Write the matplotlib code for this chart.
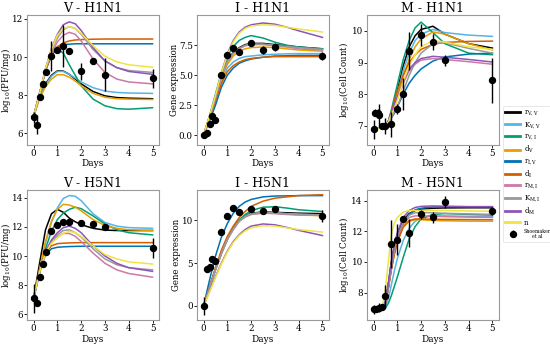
import matplotlib
matplotlib.use('Agg')
import matplotlib.pyplot as plt

plt.rcParams['font.family'] = ['DejaVu Serif']
plt.rcParams['mathtext.fontset'] = 'dejavuserif'

# time grids for the model curves
t_fit = [0, 0.25, 0.5, 0.75, 1, 1.25, 1.5, 1.75, 2, 2.5, 3, 3.5, 4, 5]
t_fit_m = [0, 0.25, 0.375, 0.5, 0.625, 0.75, 0.875, 1, 1.25, 1.5, 1.75, 2, 2.5, 3, 4, 5]

# legend labels / colours (one curve per parameter)
param_labels = [r'r$_{\rm V,V}$', r'K$_{\rm V,V}$', r'r$_{\rm V,I}$', r'd$_{\rm V}$', r'r$_{\rm I,V}$',
                r'd$_{\rm I}$', r'r$_{\rm M,I}$', r'K$_{\rm M,I}$', r'd$_{\rm M}$', 'n']
param_colors = ['#000000', '#56B4E9', '#009E73', '#E69F00', '#0072B2',
                '#D55E00', '#CC79A7', '#999999', '#8E55B8', '#F0E442']

# curves, rows in legend order
v_h1n1 = [
    [6.9, 7.9, 8.6, 9.05, 9.28, 9.27, 9.1, 8.85, 8.6, 8.2, 7.97, 7.88, 7.85, 7.82],
    [6.9, 7.9, 8.55, 9.0, 9.25, 9.25, 9.1, 8.9, 8.7, 8.4, 8.22, 8.15, 8.12, 8.1],
    [6.9, 8.1, 9.3, 10.1, 10.45, 10.2, 9.6, 9.05, 8.5, 7.8, 7.45, 7.3, 7.27, 7.35],
    [6.9, 7.85, 8.45, 8.85, 9.08, 9.08, 8.95, 8.75, 8.5, 8.1, 7.9, 7.82, 7.8, 7.78],
    [6.9, 8.1, 9.3, 10.1, 10.5, 10.65, 10.68, 10.7, 10.7, 10.7, 10.7, 10.7, 10.7, 10.7],
    [6.9, 8.1, 9.3, 10.1, 10.55, 10.75, 10.85, 10.9, 10.92, 10.94, 10.95, 10.95, 10.95, 10.95],
    [6.9, 8.0, 9.3, 10.2, 10.8, 11.15, 11.3, 11.2, 10.85, 9.9, 9.2, 8.85, 8.7, 8.6],
    [6.9, 8.05, 9.35, 10.35, 11.0, 11.45, 11.6, 11.5, 11.2, 10.4, 9.8, 9.45, 9.3, 9.2],
    [6.9, 8.05, 9.4, 10.45, 11.2, 11.7, 11.85, 11.75, 11.4, 10.5, 9.8, 9.45, 9.25, 9.1],
    [6.9, 8.05, 9.4, 10.4, 11.15, 11.5, 11.6, 11.5, 11.25, 10.6, 10.05, 9.75, 9.6, 9.47],
]
i_h1n1 = [
    [0, 1.5, 3.1, 4.9, 6.2, 6.9, 7.3, 7.55, 7.65, 7.65, 7.55, 7.45, 7.35, 7.2],
    [0, 1.4, 2.8, 4.4, 5.6, 6.1, 6.4, 6.55, 6.6, 6.7, 6.75, 6.78, 6.8, 6.8],
    [0, 1.6, 3.4, 5.2, 6.6, 7.4, 7.9, 8.15, 8.3, 8.1, 7.75, 7.5, 7.35, 7.2],
    [0, 1.5, 3.0, 4.7, 5.9, 6.6, 7.0, 7.2, 7.3, 7.35, 7.3, 7.2, 7.1, 7.0],
    [0, 1.2, 2.5, 4.0, 5.0, 5.6, 6.0, 6.2, 6.35, 6.5, 6.6, 6.62, 6.65, 6.65],
    [0, 1.4, 2.9, 4.3, 5.3, 5.8, 6.1, 6.3, 6.4, 6.5, 6.55, 6.55, 6.55, 6.55],
    [0, 1.5, 3.1, 4.85, 6.1, 6.8, 7.2, 7.45, 7.55, 7.55, 7.45, 7.35, 7.2, 7.1],
    [0, 1.5, 3.1, 4.9, 6.15, 6.85, 7.25, 7.5, 7.6, 7.6, 7.5, 7.4, 7.3, 7.15],
    [0, 1.6, 3.3, 5.2, 6.8, 7.9, 8.6, 9.0, 9.2, 9.35, 9.25, 9.0, 8.7, 8.15],
    [0, 1.6, 3.3, 5.2, 6.7, 7.8, 8.5, 8.9, 9.1, 9.2, 9.15, 9.0, 8.85, 8.6],
]
m_h1n1 = [
    [6.92, 6.93, 6.95, 7.0, 7.15, 7.4, 7.75, 8.1, 8.9, 9.5, 9.85, 10.05, 10.15, 9.9, 9.6, 9.46],
    [6.92, 6.93, 6.95, 7.0, 7.12, 7.35, 7.65, 8.0, 8.75, 9.3, 9.7, 9.9, 10.05, 9.95, 9.87, 9.83],
    [6.92, 6.93, 6.95, 7.0, 7.15, 7.5, 7.9, 8.3, 9.1, 9.7, 10.1, 10.28, 9.95, 9.6, 9.3, 9.25],
    [6.92, 6.93, 6.95, 7.0, 7.12, 7.35, 7.6, 7.9, 8.6, 9.1, 9.5, 9.75, 9.97, 9.9, 9.6, 9.4],
    [6.92, 6.93, 6.95, 7.0, 7.1, 7.25, 7.4, 7.6, 8.0, 8.35, 8.6, 8.8, 9.05, 9.18, 9.27, 9.3],
    [6.92, 6.93, 6.95, 7.0, 7.15, 7.45, 7.8, 8.1, 8.6, 9.0, 9.25, 9.42, 9.58, 9.64, 9.67, 9.68],
    [6.92, 6.93, 6.95, 7.0, 7.15, 7.4, 7.65, 7.85, 8.35, 8.75, 8.95, 9.08, 9.13, 9.1, 9.03, 8.95],
    [6.92, 6.93, 6.95, 7.0, 7.1, 7.25, 7.45, 7.6, 8.1, 8.6, 9.0, 9.3, 9.6, 9.63, 9.45, 9.3],
    [6.92, 6.93, 6.95, 7.0, 7.15, 7.45, 7.7, 7.9, 8.4, 8.8, 9.0, 9.13, 9.2, 9.17, 9.1, 9.02],
    [6.92, 6.93, 6.95, 7.0, 7.12, 7.35, 7.55, 7.8, 8.4, 8.9, 9.25, 9.5, 9.7, 9.65, 9.5, 9.42],
]
v_h5n1 = [
    [7.1, 9.5, 11.8, 12.9, 13.2, 13.0, 12.6, 12.35, 12.15, 11.9, 11.78, 11.75, 11.75, 11.75],
    [7.1, 9.0, 10.9, 12.3, 13.3, 13.95, 14.15, 14.1, 13.8, 12.9, 12.3, 12.05, 11.95, 11.9],
    [7.1, 8.8, 10.5, 11.7, 12.5, 12.95, 13.2, 13.35, 13.25, 12.75, 12.2, 11.8, 11.6, 11.45],
    [7.1, 9.1, 11.0, 12.4, 13.2, 13.55, 13.5, 13.35, 13.1, 12.5, 12.1, 11.9, 11.8, 11.75],
    [7.1, 8.9, 10.1, 10.5, 10.6, 10.63, 10.65, 10.66, 10.67, 10.67, 10.67, 10.67, 10.67, 10.67],
    [7.1, 9.0, 10.2, 10.7, 10.85, 10.88, 10.9, 10.91, 10.92, 10.92, 10.92, 10.92, 10.92, 10.92],
    [7.1, 8.9, 10.2, 10.9, 11.3, 11.55, 11.55, 11.35, 11.0, 10.2, 9.5, 9.05, 8.8, 8.55],
    [7.1, 8.9, 10.25, 11.0, 11.45, 11.75, 11.8, 11.6, 11.3, 10.5, 9.8, 9.4, 9.2, 9.05],
    [7.1, 8.9, 10.3, 11.1, 11.6, 11.95, 12.05, 11.9, 11.6, 10.7, 10.0, 9.5, 9.2, 8.95],
    [7.1, 8.9, 10.2, 10.9, 11.25, 11.55, 11.7, 11.6, 11.35, 10.7, 10.1, 9.8, 9.6, 9.45],
]
i_h5n1 = [
    [0, 2.2, 4.3, 6.2, 7.9, 9.1, 10.0, 10.5, 10.8, 10.95, 10.9, 10.85, 10.8, 10.75],
    [0, 2.2, 4.3, 6.2, 7.85, 9.05, 9.95, 10.45, 10.75, 10.9, 10.85, 10.75, 10.7, 10.6],
    [0, 2.1, 4.2, 6.1, 7.7, 9.0, 10.0, 10.65, 11.1, 11.5, 11.55, 11.4, 11.2, 11.0],
    [0, 2.1, 4.2, 6.1, 7.8, 8.95, 9.9, 10.4, 10.7, 10.85, 10.8, 10.7, 10.6, 10.5],
    [0, 3.0, 5.8, 8.0, 9.6, 10.8, 11.6, 12.1, 12.4, 12.7, 12.8, 12.82, 12.85, 12.85],
    [0, 2.2, 4.4, 6.5, 8.1, 9.3, 10.3, 11.0, 11.6, 12.2, 12.55, 12.7, 12.85, 12.95],
    [0, 2.1, 4.2, 6.1, 7.75, 8.9, 9.85, 10.35, 10.65, 10.8, 10.75, 10.65, 10.6, 10.55],
    [0, 2.1, 4.2, 6.1, 7.8, 8.95, 9.9, 10.4, 10.7, 10.85, 10.82, 10.72, 10.65, 10.6],
    [0, 1.7, 3.4, 5.0, 6.4, 7.5, 8.3, 8.9, 9.3, 9.55, 9.45, 9.15, 8.8, 8.2],
    [0, 1.65, 3.3, 4.9, 6.3, 7.4, 8.2, 8.75, 9.1, 9.35, 9.3, 9.1, 8.9, 8.6],
]
m_h5n1 = [
    [6.9, 6.92, 7.0, 7.4, 8.6, 10.0, 11.0, 11.8, 12.7, 13.15, 13.35, 13.45, 13.5, 13.52, 13.53, 13.53],
    [6.9, 6.9, 6.95, 7.1, 7.6, 8.5, 9.4, 10.2, 11.4, 12.2, 12.65, 12.9, 13.0, 13.0, 12.97, 12.95],
    [6.9, 6.9, 6.92, 7.0, 7.3, 7.8, 8.4, 9.0, 10.3, 11.5, 12.3, 12.8, 13.1, 13.15, 13.1, 13.05],
    [6.9, 6.92, 6.98, 7.3, 8.3, 9.5, 10.5, 11.3, 12.25, 12.65, 12.75, 12.75, 12.7, 12.68, 12.66, 12.65],
    [6.9, 6.92, 6.98, 7.3, 8.3, 9.6, 10.6, 11.4, 12.5, 13.1, 13.4, 13.5, 13.58, 13.6, 13.6, 13.6],
    [6.9, 6.92, 6.98, 7.3, 8.3, 9.5, 10.5, 11.3, 12.3, 12.7, 12.8, 12.8, 12.78, 12.77, 12.76, 12.75],
    [6.9, 6.92, 6.98, 7.3, 8.4, 9.7, 10.8, 11.6, 12.5, 12.9, 13.0, 13.0, 12.98, 12.95, 12.92, 12.9],
    [6.9, 6.92, 6.98, 7.3, 8.4, 9.7, 10.8, 11.6, 12.6, 13.05, 13.2, 13.22, 13.2, 13.17, 13.13, 13.1],
    [6.9, 6.92, 7.0, 7.4, 8.6, 10.0, 11.1, 11.9, 12.9, 13.35, 13.55, 13.62, 13.65, 13.63, 13.6, 13.6],
    [6.9, 6.95, 7.1, 8.2, 10.0, 11.8, 12.5, 12.9, 13.25, 13.35, 13.35, 13.35, 13.35, 13.35, 13.32, 13.3],
]

# Shoemaker et al data (mean, error)
t_obs = [0, 0.125, 0.25, 0.375, 0.5, 0.75, 1, 1.25, 1.5, 2, 2.5, 3, 5]
t_obs_m1 = [0, 0.08, 0.17, 0.25, 0.375, 0.5, 0.75, 1, 1.25, 1.5, 2, 2.5, 3, 5]
obs_v_h1n1 = [6.85, 6.45, 7.9, 8.6, 9.2, 10.05, 10.37, 10.58, 10.33, 9.25, 9.78, 9.08, 8.9]
err_v_h1n1 = [0.3, 0.5, 0.1, 0.1, 0.1, 0.8, 0.1, 1.1, 0.15, 0.45, 0.1, 0.85, 0.5]
obs_i_h1n1 = [0, 0.22, 0.9, 1.6, 1.3, 5.0, 6.7, 7.3, 6.9, 7.7, 7.1, 7.35, 6.6]
err_i_h1n1 = [0.1, 0.1, 0.1, 0.1, 0.1, 0.1, 0.1, 0.2, 0.2, 0.2, 0.3, 0.3, 0.3]
obs_m_h1n1 = [6.9, 7.42, 7.42, 7.35, 7.0, 7.0, 7.05, 7.53, 8.0, 9.38, 9.87, 9.65, 9.07, 8.44]
err_m_h1n1 = [0.3, 0.1, 0.1, 0.35, 0.1, 0.25, 0.4, 0.15, 0.5, 0.6, 0.35, 0.25, 0.18, 0.7]
obs_v_h5n1 = [7.1, 6.75, 8.55, 9.43, 10.3, 11.73, 12.1, 12.35, 12.35, 12.3, 12.23, 11.97, 10.55]
err_v_h5n1 = [1.0, 0.1, 0.15, 0.1, 0.1, 0.15, 0.1, 0.1, 0.1, 0.1, 0.1, 0.15, 0.7]
obs_i_h5n1 = [0, 4.25, 4.55, 5.5, 5.25, 8.6, 10.5, 11.4, 10.9, 11.3, 11.0, 11.3, 10.5]
err_i_h5n1 = [1.0, 0.2, 0.2, 0.2, 0.2, 0.2, 0.2, 0.2, 0.2, 0.2, 0.2, 0.2, 0.7]
obs_m_h5n1 = [6.9, 6.9, 7.0, 7.05, 7.75, 11.15, 11.45, 12.8, 11.9, 13.1, 12.9, 13.9, 13.3]
err_m_h5n1 = [0.3, 0.15, 0.3, 0.2, 0.75, 1.55, 1.0, 0.2, 0.9, 0.3, 0.35, 0.4, 0.25]

panels = [
    ('V - H1N1', r'log$_{10}$(PFU/mg)', t_fit, v_h1n1, t_obs, obs_v_h1n1, err_v_h1n1, (5.4, 12.2), [6, 8, 10, 12]),
    ('I - H1N1', 'Gene expression', t_fit, i_h1n1, t_obs, obs_i_h1n1, err_i_h1n1, (-0.8, 10.0), [0, 2.5, 5, 7.5]),
    ('M - H1N1', r'log$_{10}$(Cell Count)', t_fit_m, m_h1n1, t_obs_m1, obs_m_h1n1, err_m_h1n1, (6.4, 10.5), [7, 8, 9, 10]),
    ('V - H5N1', r'log$_{10}$(PFU/mg)', t_fit, v_h5n1, t_obs, obs_v_h5n1, err_v_h5n1, (5.6, 14.5), [6, 8, 10, 12, 14]),
    ('I - H5N1', 'Gene expression', t_fit, i_h5n1, t_obs, obs_i_h5n1, err_i_h5n1, (-1.65, 13.45), [0, 5, 10]),
    ('M - H5N1', r'log$_{10}$(Cell Count)', t_fit_m, m_h5n1, t_obs, obs_m_h5n1, err_m_h5n1, (6.2, 14.66), [8, 10, 12, 14]),
]

fig = plt.figure(figsize=(5.5, 3.45), dpi=100)
lefts = [0.049, 0.358, 0.667]
bottoms = [0.580, 0.072]

for k, (title, ylab, tf, curves, to, obs, err, ylim, yticks) in enumerate(panels):
    ax = fig.add_axes([lefts[k % 3], bottoms[k // 3], 0.24, 0.376])
    for row, col, lab in zip(curves, param_colors, param_labels):
        ax.plot(tf, row, color=col, lw=1.1, label=lab)
    ax.errorbar(to, obs, yerr=err, fmt='o', color='black', ms=4.3, elinewidth=1.0,
                capsize=0, label='Shoemaker\net al', zorder=5)
    ax.set_xlim(-0.28, 5.27)
    ax.set_ylim(*ylim)
    ax.set_yticks(yticks)
    ax.set_xticks([0, 1, 2, 3, 4, 5])
    ax.set_title(title, fontsize=9, pad=2)
    ax.set_xlabel('Days', fontsize=6.5, labelpad=1)
    ax.set_ylabel(ylab, fontsize=6.2, labelpad=0)
    ax.tick_params(labelsize=6.3, length=2.2, width=0.6, pad=0.8)
    if k % 3 == 0:
        ax.yaxis.set_label_coords(-0.108, 0.5)
    for s in ax.spines.values():
        s.set_color('#9a9a9a')
        s.set_linewidth(0.8)
    if k == 0:
        handles, labels = ax.get_legend_handles_labels()

leg = fig.legend(handles, labels, loc='upper left', bbox_to_anchor=(0.914, 0.692),
                 fontsize=5, frameon=True, handlelength=2.2, handletextpad=0.5,
                 borderpad=0.35, labelspacing=0.28, borderaxespad=0)
for line in leg.get_lines():
    line.set_linewidth(2)
leg.get_frame().set_edgecolor('#dddddd')
leg.get_frame().set_linewidth(0.6)
txt = leg.get_texts()[-1]
txt.set_fontsize(3.3)
txt.set_multialignment('center')

fig.savefig('out.png', dpi=100)
